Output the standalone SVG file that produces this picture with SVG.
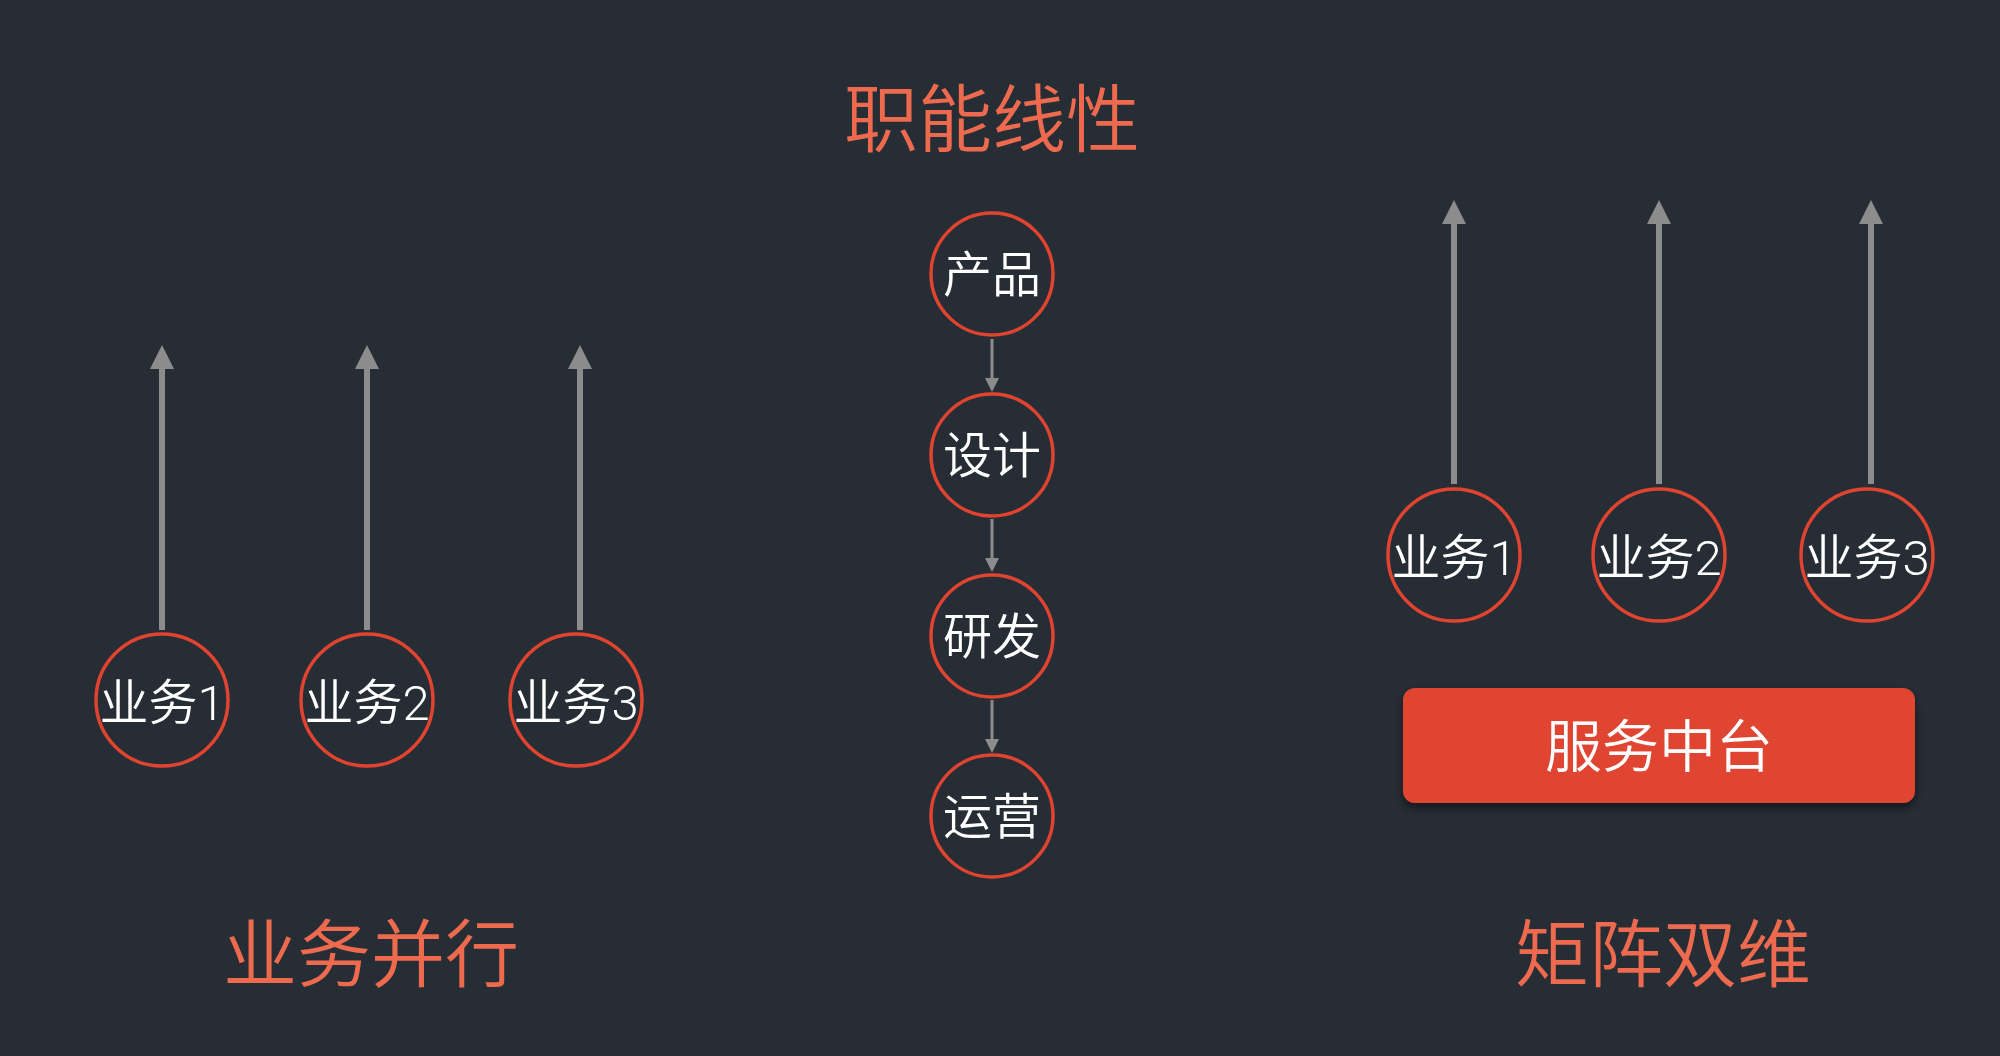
<svg xmlns="http://www.w3.org/2000/svg" width="2000" height="1056" viewBox="0 0 2000 1056">
<defs>
<style>
.bg{fill:#272d35}
.title{font-family:"Roboto","Noto Sans CJK SC",sans-serif;font-size:74px;font-weight:350;fill:#ee6a4e;text-anchor:middle}
.node circle{fill:none;stroke:#e0432f;stroke-width:3.5}
.lbl{font-family:"Roboto","Noto Sans CJK SC",sans-serif;font-size:49px;font-weight:350;fill:#ffffff;text-anchor:middle}
.big{stroke:#8c8c8c;stroke-width:6;fill:none}
.small{stroke:#8c8c8c;stroke-width:3;fill:none}
.box{fill:#e04530}
.boxlbl{font-family:"Roboto","Noto Sans CJK SC",sans-serif;font-size:57px;font-weight:350;fill:#ffffff;text-anchor:middle}
</style>
<marker id="ahBig" markerUnits="userSpaceOnUse" markerWidth="24" markerHeight="24" refX="0" refY="12" orient="auto" viewBox="0 0 24 24">
<path d="M0,0 L24,12 L0,24 z" fill="#8c8c8c"/>
</marker>
<marker id="ahSmall" markerUnits="userSpaceOnUse" markerWidth="14" markerHeight="14" refX="0" refY="7" orient="auto" viewBox="0 0 14 14">
<path d="M0,0 L14,7 L0,14 z" fill="#8c8c8c"/>
</marker>
<filter id="shadow" x="-10%" y="-20%" width="120%" height="150%">
<feDropShadow dx="0" dy="5" stdDeviation="5" flood-color="#000000" flood-opacity="0.5"/>
</filter>
</defs>
<rect class="bg" x="0" y="0" width="2000" height="1056"/>

<g id="titles">
<text class="title" x="992" y="146">职能线性</text>
<text class="title" x="371" y="981">业务并行</text>
<text class="title" x="1663" y="981">矩阵双维</text>
</g>

<g id="connectors">
<line class="big" x1="162" y1="630" x2="162" y2="369" marker-end="url(#ahBig)"/>
<line class="big" x1="367" y1="630" x2="367" y2="369" marker-end="url(#ahBig)"/>
<line class="big" x1="580" y1="630" x2="580" y2="369" marker-end="url(#ahBig)"/>
<line class="big" x1="1454" y1="484" x2="1454" y2="224" marker-end="url(#ahBig)"/>
<line class="big" x1="1659" y1="484" x2="1659" y2="224" marker-end="url(#ahBig)"/>
<line class="big" x1="1871" y1="484" x2="1871" y2="224" marker-end="url(#ahBig)"/>
<line class="small" x1="992" y1="339" x2="992" y2="378" marker-end="url(#ahSmall)"/>
<line class="small" x1="992" y1="519" x2="992" y2="558" marker-end="url(#ahSmall)"/>
<line class="small" x1="992" y1="700" x2="992" y2="739" marker-end="url(#ahSmall)"/>
</g>

<g id="node-left-1" class="node"><circle cx="162" cy="700" r="66"/><text class="lbl" x="162" y="720">业务1</text></g>
<g id="node-left-2" class="node"><circle cx="367" cy="700" r="66"/><text class="lbl" x="367" y="720">业务2</text></g>
<g id="node-left-3" class="node"><circle cx="576" cy="700" r="66"/><text class="lbl" x="576" y="720">业务3</text></g>

<g id="node-product" class="node"><circle cx="992" cy="274" r="61"/><text class="lbl" x="992" y="292">产品</text></g>
<g id="node-design" class="node"><circle cx="992" cy="455" r="61"/><text class="lbl" x="992" y="473">设计</text></g>
<g id="node-rd" class="node"><circle cx="992" cy="636" r="61"/><text class="lbl" x="992" y="654">研发</text></g>
<g id="node-ops" class="node"><circle cx="992" cy="816" r="61"/><text class="lbl" x="992" y="834">运营</text></g>

<g id="node-right-1" class="node"><circle cx="1454" cy="555" r="66"/><text class="lbl" x="1454" y="575">业务1</text></g>
<g id="node-right-2" class="node"><circle cx="1659" cy="555" r="66"/><text class="lbl" x="1659" y="575">业务2</text></g>
<g id="node-right-3" class="node"><circle cx="1867" cy="555" r="66"/><text class="lbl" x="1867" y="575">业务3</text></g>

<g id="node-platform">
<rect class="box" x="1403" y="688" width="512" height="115" rx="12" filter="url(#shadow)"/>
<text class="boxlbl" x="1659" y="767">服务中台</text>
</g>
</svg>
